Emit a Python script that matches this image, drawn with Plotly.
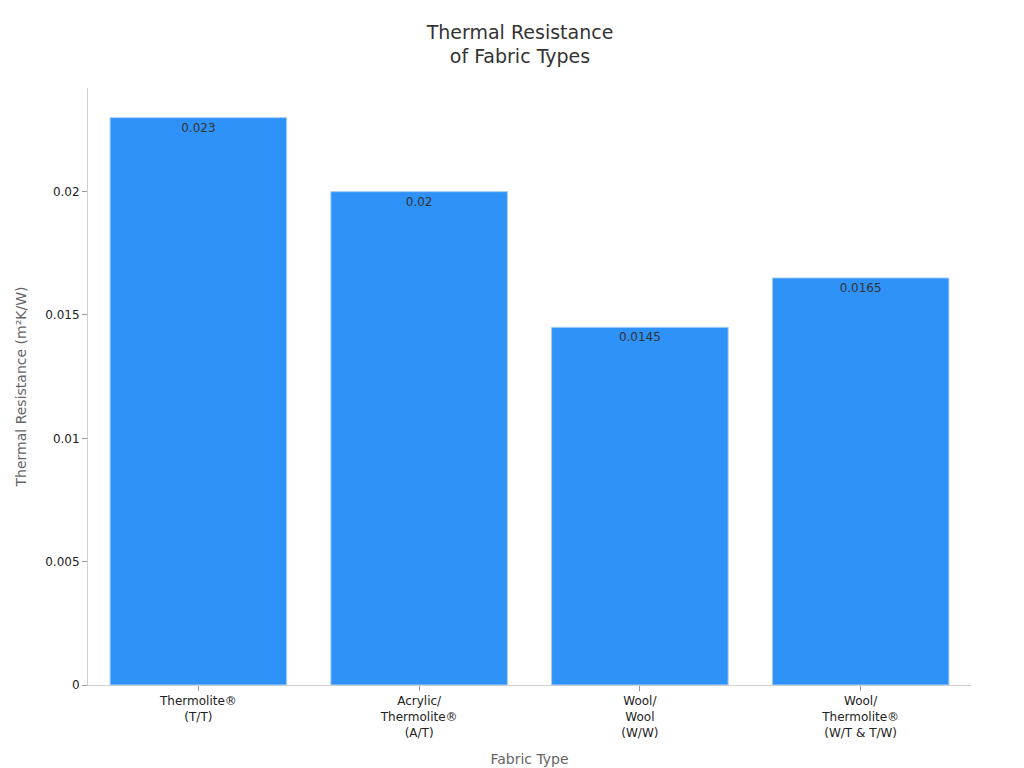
import plotly.graph_objects as go

categories = ["Thermolite®<br>(T/T)", "Acrylic/<br>Thermolite®<br>(A/T)", "Wool/<br>Wool<br>(W/W)", "Wool/<br>Thermolite®<br>(W/T & T/W)"]
values = [0.023, 0.02, 0.0145, 0.0165]
labels = ["0.023", "0.02", "0.0145", "0.0165"]

fig = go.Figure()
fig.add_trace(go.Bar(
    x=categories, y=values, text=labels, textposition="inside", insidetextanchor="end",
    textfont=dict(color="#333333", size=12),
    marker=dict(color="#2e92f8", line=dict(color="#a9d0f7", width=1)),
    width=0.8,
))
fig.update_layout(
    width=1024, height=768,
    font=dict(family="DejaVu Sans", size=12, color="#333333"),
    title=dict(text="Thermal Resistance<br>of Fabric Types", x=0.5, xanchor="center", y=0.96,
               font=dict(size=19, color="#333333")),
    plot_bgcolor="white", paper_bgcolor="white",
    margin=dict(l=80, r=61, t=80, b=91),
    showlegend=False,
)
fig.update_xaxes(title=dict(text="Fabric Type", font=dict(size=14, color="#666666")),
                 showline=True, linecolor="#d0d0d0", ticks="outside", ticklen=5, tickcolor="#999999",
                 tickfont=dict(size=12, color="#222222"))
fig.update_yaxes(title=dict(text="Thermal Resistance (m²K/W)", font=dict(size=14, color="#666666")),
                 range=[0, 0.0242], tickvals=[0, 0.005, 0.01, 0.015, 0.02],
                 ticktext=["0", "0.005", "0.01", "0.015", "0.02"],
                 showline=True, linecolor="#d0d0d0", ticks="outside", ticklen=5, tickcolor="#999999",
                 showgrid=False, zeroline=False, tickfont=dict(size=12, color="#222222"))
fig.write_html("out.html")
